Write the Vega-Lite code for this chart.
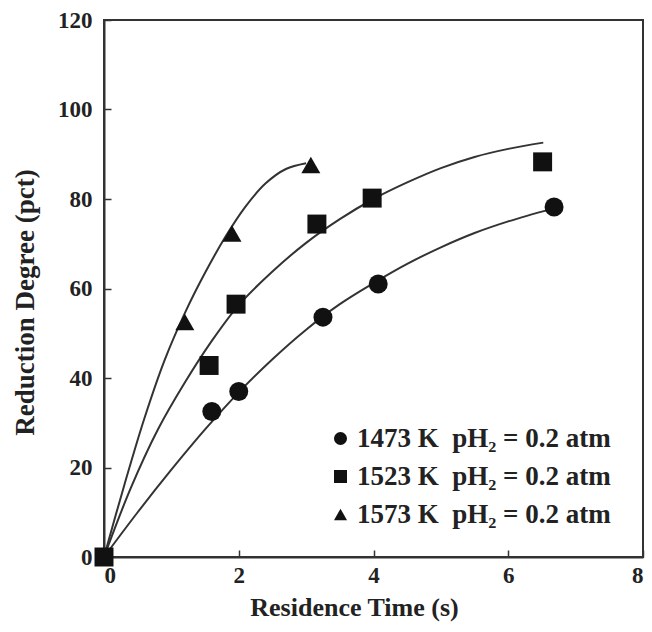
{
  "$schema": "https://vega.github.io/schema/vega-lite/v6.json",
  "width": 539,
  "height": 537,
  "autosize": {"type": "none"},
  "padding": {"left": 104, "top": 20, "right": 9, "bottom": 75},
  "background": "white",
  "config": {
    "view": {"stroke": "#333", "strokeWidth": 2},
    "font": "Liberation Serif",
    "axis": {
      "grid": false,
      "domainColor": "#333",
      "domainWidth": 2,
      "tickColor": "#333",
      "tickWidth": 1.5,
      "tickSize": -7,
      "labelFont": "Liberation Serif",
      "labelFontWeight": "bold",
      "labelFontSize": 23,
      "labelColor": "#222",
      "titleFont": "Liberation Serif",
      "titleFontWeight": "bold",
      "titleFontSize": 26,
      "titleColor": "#222"
    }
  },
  "datasets": {
    "pts": [
      {"series": "1473 K\u00a0 pH₂ = 0.2 atm", "t": 1.6, "r": 32.5},
      {"series": "1473 K\u00a0 pH₂ = 0.2 atm", "t": 2.0, "r": 37.0},
      {"series": "1473 K\u00a0 pH₂ = 0.2 atm", "t": 3.25, "r": 53.6},
      {"series": "1473 K\u00a0 pH₂ = 0.2 atm", "t": 4.07, "r": 61.0},
      {"series": "1473 K\u00a0 pH₂ = 0.2 atm", "t": 6.68, "r": 78.2},
      {"series": "1573 K\u00a0 pH₂ = 0.2 atm", "t": 1.2, "r": 52.5},
      {"series": "1573 K\u00a0 pH₂ = 0.2 atm", "t": 1.9, "r": 72.3},
      {"series": "1573 K\u00a0 pH₂ = 0.2 atm", "t": 3.07, "r": 87.6},
      {"series": "1523 K\u00a0 pH₂ = 0.2 atm", "t": 1.56, "r": 42.8},
      {"series": "1523 K\u00a0 pH₂ = 0.2 atm", "t": 1.96, "r": 56.5},
      {"series": "1523 K\u00a0 pH₂ = 0.2 atm", "t": 3.16, "r": 74.4},
      {"series": "1523 K\u00a0 pH₂ = 0.2 atm", "t": 3.98, "r": 80.2},
      {"series": "1523 K\u00a0 pH₂ = 0.2 atm", "t": 6.51, "r": 88.3},
      {"series": "1523 K\u00a0 pH₂ = 0.2 atm", "t": 0, "r": 0}
    ],
    "fits": [
      {"curve": "1473", "t": 0, "r": 0},
      {"curve": "1473", "t": 0.5, "r": 10.0},
      {"curve": "1473", "t": 1.0, "r": 19.5},
      {"curve": "1473", "t": 1.5, "r": 28.5},
      {"curve": "1473", "t": 2.0, "r": 36.8},
      {"curve": "1473", "t": 2.5, "r": 44.2},
      {"curve": "1473", "t": 3.0, "r": 50.8},
      {"curve": "1473", "t": 3.5, "r": 56.5},
      {"curve": "1473", "t": 4.0, "r": 61.2},
      {"curve": "1473", "t": 4.5, "r": 65.5},
      {"curve": "1473", "t": 5.0, "r": 69.2},
      {"curve": "1473", "t": 5.5, "r": 72.4},
      {"curve": "1473", "t": 6.0, "r": 75.0},
      {"curve": "1473", "t": 6.65, "r": 77.8},
      {"curve": "1523", "t": 0, "r": 0},
      {"curve": "1523", "t": 0.4, "r": 15.5},
      {"curve": "1523", "t": 0.8, "r": 28.5},
      {"curve": "1523", "t": 1.2, "r": 39.0},
      {"curve": "1523", "t": 1.6, "r": 48.3},
      {"curve": "1523", "t": 2.0, "r": 56.3},
      {"curve": "1523", "t": 2.5, "r": 63.8},
      {"curve": "1523", "t": 3.0, "r": 70.2},
      {"curve": "1523", "t": 3.5, "r": 75.5},
      {"curve": "1523", "t": 4.0, "r": 80.0},
      {"curve": "1523", "t": 4.5, "r": 83.7},
      {"curve": "1523", "t": 5.0, "r": 86.9},
      {"curve": "1523", "t": 5.5, "r": 89.4},
      {"curve": "1523", "t": 6.0, "r": 91.2},
      {"curve": "1523", "t": 6.52, "r": 92.6},
      {"curve": "1573", "t": 0, "r": 0},
      {"curve": "1573", "t": 0.3, "r": 16.0},
      {"curve": "1573", "t": 0.6, "r": 31.0},
      {"curve": "1573", "t": 0.9, "r": 44.0},
      {"curve": "1573", "t": 1.2, "r": 54.5},
      {"curve": "1573", "t": 1.5, "r": 63.5},
      {"curve": "1573", "t": 1.8, "r": 71.5},
      {"curve": "1573", "t": 2.1, "r": 78.3},
      {"curve": "1573", "t": 2.4, "r": 83.5},
      {"curve": "1573", "t": 2.7, "r": 86.7},
      {"curve": "1573", "t": 3.0, "r": 88.0}
    ]
  },
  "layer": [
    {
      "data": {"name": "fits"},
      "mark": {"type": "line", "interpolate": "catmull-rom", "stroke": "#333", "strokeWidth": 2},
      "encoding": {
        "x": {"field": "t", "type": "quantitative"},
        "y": {"field": "r", "type": "quantitative"},
        "detail": {"field": "curve", "type": "nominal"}
      }
    },
    {
      "data": {"name": "pts"},
      "mark": {"type": "point", "filled": true, "fill": "#111", "opacity": 1, "size": 360},
      "encoding": {
        "x": {
          "field": "t", "type": "quantitative",
          "scale": {"domain": [0, 8], "nice": false, "zero": true},
          "axis": {"values": [0, 2, 4, 6, 8], "format": "d", "labelPadding": 14, "title": "Residence Time (s)", "titleX": 250, "titleY": 58, "titleBaseline": "alphabetic"}
        },
        "y": {
          "field": "r", "type": "quantitative",
          "scale": {"domain": [0, 120], "nice": false},
          "axis": {"values": [0, 20, 40, 60, 80, 100, 120], "format": "d", "labelPadding": 19, "title": "Reduction Degree (pct)", "titleFontSize": 27, "titleX": -79, "titleY": 282, "titleBaseline": "middle", "titleAngle": -90}
        },
        "shape": {
          "field": "series", "type": "nominal",
          "scale": {
            "domain": ["1473 K\u00a0 pH₂ = 0.2 atm", "1523 K\u00a0 pH₂ = 0.2 atm", "1573 K\u00a0 pH₂ = 0.2 atm"],
            "range": ["circle", "square", "triangle-up"]
          },
          "legend": {
            "orient": "none",
            "legendX": 223,
            "legendY": 405,
            "title": null,
            "symbolFillColor": "#111",
            "symbolStrokeColor": "#111",
            "symbolSize": 170,
            "labelFont": "Liberation Serif",
            "labelFontWeight": "bold",
            "labelFontSize": 27,
            "labelColor": "#222",
            "labelOffset": 3,
            "rowPadding": 10,
            "labelLimit": 400
          }
        }
      }
    }
  ]
}
